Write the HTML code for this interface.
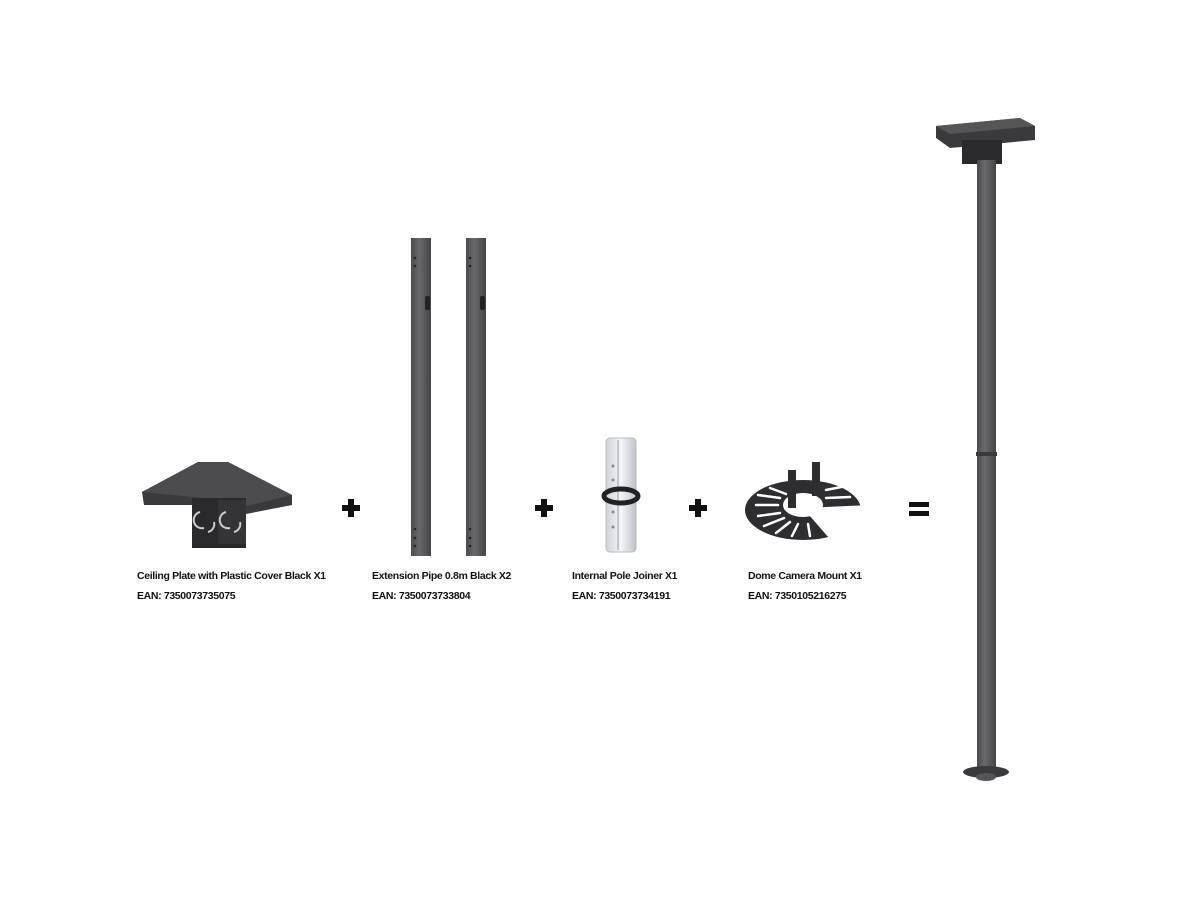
<!DOCTYPE html>
<html><head><meta charset="utf-8"><style>
html,body{margin:0;padding:0;background:#fff;width:1200px;height:900px;overflow:hidden}
.t{position:absolute;font-family:"Liberation Sans",sans-serif;font-weight:bold;font-size:10.5px;color:#111;line-height:20px;white-space:nowrap;letter-spacing:-0.35px}
</style></head><body>
<svg width="1200" height="900" style="position:absolute;left:0;top:0">
<defs>
<linearGradient id="pg" x1="0" x2="1"><stop offset="0" stop-color="#4a4a4c"/><stop offset="0.4" stop-color="#6a6a6c"/><stop offset="1" stop-color="#444446"/></linearGradient>
<linearGradient id="wg" x1="0" x2="1"><stop offset="0" stop-color="#cfd3d8"/><stop offset="0.5" stop-color="#f4f5f7"/><stop offset="1" stop-color="#bfc3c8"/></linearGradient>
</defs>
<!-- ceiling plate -->
<polygon points="142,492 198,462 228,462 292,495 292,505 246,514 204,505 144,505" fill="#3a3a3c"/>
<polygon points="142,492 198,462 228,462 292,495 246,506 204,498" fill="#4c4c4e"/>
<rect x="192" y="498" width="54" height="50" fill="#2a2a2c"/>
<rect x="218" y="500" width="28" height="44" fill="#343436"/>
<path d="M200,512 a8,8 0 0 0 4,16 M208,532 a8,8 0 0 0 6,-10" stroke="#ccc" stroke-width="2" fill="none"/>
<path d="M226,512 a8,8 0 0 0 4,16 M234,532 a8,8 0 0 0 6,-10" stroke="#ccc" stroke-width="2" fill="none"/>
<!-- pipes -->
<rect x="411" y="238" width="20" height="318" fill="url(#pg)"/>
<rect x="466" y="238" width="20" height="318" fill="url(#pg)"/>
<rect x="425" y="296" width="5" height="14" rx="2" fill="#222"/><rect x="480" y="296" width="5" height="14" rx="2" fill="#222"/>
<g fill="#222"><circle cx="415" cy="258" r="1.3"/><circle cx="415" cy="266" r="1.3"/><circle cx="415" cy="529" r="1.3"/><circle cx="415" cy="538" r="1.3"/><circle cx="415" cy="546" r="1.3"/>
<circle cx="470" cy="258" r="1.3"/><circle cx="470" cy="266" r="1.3"/><circle cx="470" cy="529" r="1.3"/><circle cx="470" cy="538" r="1.3"/><circle cx="470" cy="546" r="1.3"/></g>
<!-- joiner -->
<rect x="606" y="438" width="30" height="114" rx="4" fill="url(#wg)" stroke="#b8bcc1"/>
<rect x="617" y="440" width="2" height="110" fill="#c0c4c9"/>
<g fill="#888"><circle cx="613" cy="466" r="1.5"/><circle cx="613" cy="480" r="1.5"/><circle cx="613" cy="512" r="1.5"/><circle cx="613" cy="527" r="1.5"/></g>
<ellipse cx="621" cy="496" rx="17" ry="7" fill="none" stroke="#222" stroke-width="5"/>
<!-- camera mount -->
<ellipse cx="803" cy="510" rx="58" ry="30" fill="#2e2e30"/>
<ellipse cx="803" cy="505" rx="20" ry="12" fill="#fff"/>
<polygon points="803,508 870,505 870,545 835,545" fill="#fff"/>
<g stroke="#fff" stroke-width="2.5" stroke-linecap="round">
<line x1="756" y1="505" x2="778" y2="505"/><line x1="758" y1="495" x2="780" y2="498"/><line x1="758" y1="516" x2="780" y2="513"/>
<line x1="764" y1="526" x2="784" y2="518"/><line x1="776" y1="533" x2="790" y2="522"/><line x1="792" y1="536" x2="798" y2="524"/>
<line x1="810" y1="536" x2="808" y2="524"/><line x1="826" y1="490" x2="846" y2="486"/><line x1="826" y1="498" x2="850" y2="497"/>
<line x1="770" y1="488" x2="786" y2="494"/></g>
<rect x="788" y="470" width="8" height="38" fill="#2e2e30"/><rect x="812" y="462" width="8" height="34" fill="#2e2e30"/>
<!-- plus / equal -->
<g fill="#111"><rect x="342" y="505" width="18" height="6"/><rect x="348" y="499" width="6" height="18"/>
<rect x="535" y="505" width="18" height="6"/><rect x="541" y="499" width="6" height="18"/>
<rect x="689" y="505" width="18" height="6"/><rect x="695" y="499" width="6" height="18"/>
<rect x="909" y="502" width="20" height="5"/><rect x="909" y="511" width="20" height="5"/></g>
<!-- assembled pole -->
<polygon points="936,126 1020,118 1035,126 1035,140 950,148 936,138" fill="#3a3a3c"/>
<polygon points="936,126 1020,118 1035,126 950,134" fill="#555"/>
<rect x="962" y="140" width="40" height="24" fill="#2a2a2c"/>
<rect x="977" y="160" width="19" height="612" fill="url(#pg)"/>
<rect x="976" y="452" width="21" height="4" fill="#3a3a3c"/>
<ellipse cx="986" cy="772" rx="23" ry="6" fill="#3a3a3c"/>
<ellipse cx="986" cy="777" rx="10" ry="4" fill="#555"/>
</svg>
<div class="t" style="left:137px;top:566px">Ceiling Plate with Plastic Cover Black X1<br>EAN: 7350073735075</div>
<div class="t" style="left:372px;top:566px">Extension Pipe 0.8m Black X2<br>EAN: 7350073733804</div>
<div class="t" style="left:572px;top:566px">Internal Pole Joiner X1<br>EAN: 7350073734191</div>
<div class="t" style="left:748px;top:566px">Dome Camera Mount X1<br>EAN: 7350105216275</div>
</body></html>
